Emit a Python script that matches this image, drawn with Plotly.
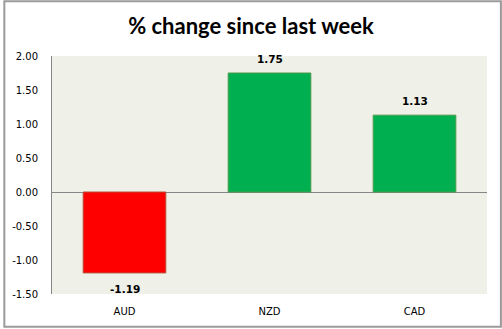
import plotly.graph_objects as go

categories = ["AUD", "NZD", "CAD"]
values = [-1.19, 1.75, 1.13]
value_labels = ["-1.19", "1.75", "1.13"]
fill_colors = ["#FF0000", "#00B050", "#00B050"]
edge_colors = ["#B5503A", "#4A9A4A", "#4A9A4A"]
tick_values = [-1.5, -1.0, -0.5, 0.0, 0.5, 1.0, 1.5, 2.0]
tick_labels = ["-1.50", "-1.00", "-0.50", "0.00", "0.50", "1.00", "1.50", "2.00"]

W, H = 502, 329
L, R, T, B = 49, 15, 56, 34
pw, ph = W - L - R, H - T - B

fig = go.Figure(
    go.Bar(
        x=categories,
        y=values,
        marker=dict(color=fill_colors, line=dict(color=edge_colors, width=1)),
        width=0.57,
        hoverinfo="skip",
    )
)

# value labels above positive bars, below negative ones
for cat, v, txt in zip(categories, values, value_labels):
    fig.add_annotation(
        x=cat, y=v, text=f"<b>{txt}</b>", showarrow=False,
        yanchor="bottom" if v >= 0 else "top",
        yshift=6 if v >= 0 else -8,
        font=dict(family="DejaVu Sans", size=10.5, color="#000000"),
    )

# outer chart border
fig.add_shape(
    type="rect", xref="paper", yref="paper",
    x0=(1 - L) / pw, x1=(W - 1 - L) / pw,
    y0=(H - B - (H - 1)) / ph, y1=(H - B - 1) / ph,
    line=dict(color="#9A9A9A", width=2), layer="below",
)

fig.update_layout(
    width=W, height=H,
    margin=dict(l=L, r=R, t=T, b=B),
    paper_bgcolor="#FFFFFF",
    plot_bgcolor="#EFF0E8",
    showlegend=False,
    title=dict(
        text="<b>% change since last week</b>",
        x=251 / W, xanchor="center", y=1 - 26 / H, yanchor="middle",
        font=dict(family="Lato", size=22, color="#000000"),
    ),
    xaxis=dict(
        showgrid=False, zeroline=False, showline=False,
        ticks="", ticklabelstandoff=10,
        tickfont=dict(family="DejaVu Sans", size=10, color="#000000"),
    ),
    yaxis=dict(
        range=[-1.5, 2.0], tickvals=tick_values, ticktext=tick_labels,
        showgrid=False, zeroline=True, zerolinecolor="#868686", zerolinewidth=1,
        showline=True, linecolor="#868686", linewidth=1,
        ticks="", ticklabelstandoff=11,
        tickfont=dict(family="DejaVu Sans", size=10, color="#000000"),
    ),
)

fig.write_html("out.html")
